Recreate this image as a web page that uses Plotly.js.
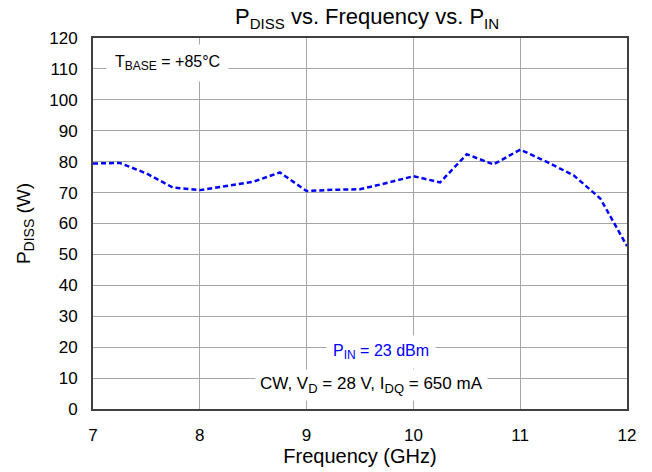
<!DOCTYPE html>
<html><head><meta charset="utf-8">
<script src="https://cdn.plot.ly/plotly-3.0.1.min.js"></script>
<style>html,body{margin:0;padding:0;background:#fff}#chart{width:652px;height:472px}</style>
</head><body><div id="chart"></div>
<script>
const freq = [7, 7.25, 7.5, 7.75, 8, 8.25, 8.5, 8.75, 9, 9.25, 9.5, 9.75, 10, 10.25, 10.5, 10.75, 11, 11.25, 11.5, 11.75, 12];
const pdiss = [79.4, 79.6, 76.2, 71.6, 70.8, 72.2, 73.5, 76.5, 70.5, 70.9, 71.1, 73.1, 75.3, 73.3, 82.4, 79.1, 83.9, 79.9, 75.6, 68.1, 52.7];
const xTicks = [7, 8, 9, 10, 11, 12];
const yTicks = [0, 10, 20, 30, 40, 50, 60, 70, 80, 90, 100, 110, 120];
const F = "Liberation Sans, Arial, sans-serif";
function sub(t, px) { return '<sub><span style="font-size:' + px + 'px">' + t + '</span></sub>'; }
const data = [{x: freq, y: pdiss, type: 'scatter', mode: 'lines',
  line: {color: '#0000ff', width: 2.5, dash: '5px,3px'}, hoverinfo: 'skip'}];
const layout = {
  width: 652, height: 472,
  margin: {l: 93, r: 25, t: 38, b: 63},
  paper_bgcolor: '#fff', plot_bgcolor: '#fff',
  showlegend: false,
  font: {family: F, color: '#000', size: 17},
  title: {text: 'P' + sub('DISS', 15) + ' vs. Frequency vs. P' + sub('IN', 15), font: {family: F, size: 22, color: '#000'},
    x: 0.563, xanchor: 'center', y: 0.982, yanchor: 'top'},
  xaxis: {range: [7, 12], tickvals: xTicks, ticktext: xTicks.map(String),
    showgrid: true, gridcolor: '#a6a6a6', gridwidth: 1,
    showline: true, linecolor: '#404040', linewidth: 2, mirror: true,
    ticks: '', zeroline: false, tickfont: {size: 17}, ticklabelstandoff: 10,
    title: {text: 'Frequency (GHz)', font: {size: 20}, standoff: 4}},
  yaxis: {range: [0, 120], tickvals: yTicks, ticktext: yTicks.map(String),
    showgrid: true, gridcolor: '#a6a6a6', gridwidth: 1,
    showline: true, linecolor: '#404040', linewidth: 2, mirror: true,
    ticks: '', zeroline: false, tickfont: {size: 17}, ticklabelstandoff: 10,
    title: {text: 'P' + sub('DISS', 14) + ' (W)', font: {size: 19}, standoff: 14}},
  annotations: [
    {xref: 'paper', yref: 'paper', x: 0.025, y: 0.933, xanchor: 'left', yanchor: 'middle',
     text: 'T' + sub('BASE', 12) + ' = +85°C', showarrow: false, font: {size: 16},
     bgcolor: '#fff', borderpad: 8},
    {xref: 'paper', yref: 'paper', x: 0.540, y: 0.154, xanchor: 'center', yanchor: 'middle',
     text: 'P' + sub('IN', 12) + ' = 23 dBm', showarrow: false, font: {size: 16, color: '#0000ff'},
     bgcolor: '#fff', borderpad: 6},
    {xref: 'paper', yref: 'paper', x: 0.521, y: 0.065, xanchor: 'center', yanchor: 'middle',
     text: 'CW, V' + sub('D', 13) + ' = 28 V, I' + sub('DQ', 13) + ' = 650 mA', showarrow: false, font: {size: 17},
     bgcolor: '#fff', borderpad: 4}
  ]
};
Plotly.newPlot('chart', data, layout, {displayModeBar: false, staticPlot: true});
</script></body></html>
